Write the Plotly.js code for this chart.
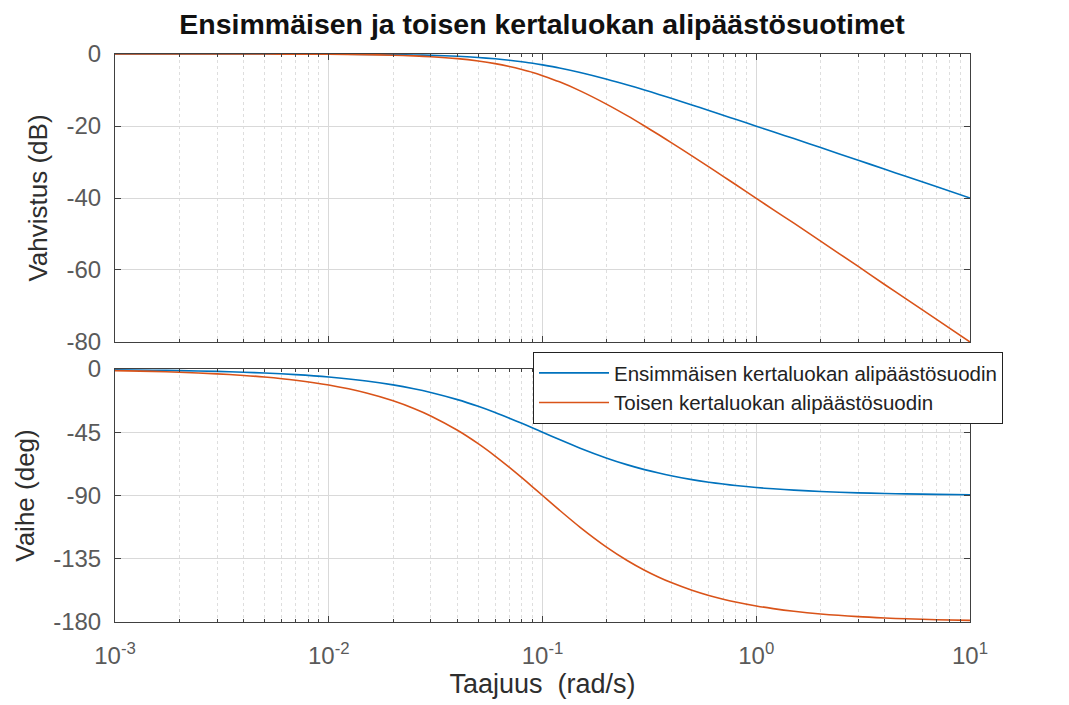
<!DOCTYPE html>
<html>
<head>
<meta charset="utf-8">
<script src="https://cdn.plot.ly/plotly-3.0.1.min.js"></script>
<style>
  html, body { margin: 0; padding: 0; background: #fff; }
  #plot { width: 1069px; height: 705px; }
</style>
</head>
<body>
<div id="plot"></div>
<script>
// Frequency points (rad/s)
const taajuus = [0.001, 0.0015, 0.002, 0.003, 0.004, 0.005, 0.007, 0.01, 0.015, 0.02,
                 0.025, 0.03, 0.04, 0.05, 0.06, 0.07, 0.08, 0.09, 0.1, 0.12,
                 0.15, 0.2, 0.25, 0.3, 0.35, 0.4, 0.5, 0.6, 0.7, 0.8,
                 1, 1.2, 1.5, 2, 3, 4, 5, 7, 10];

// Gain (dB)
const vahvistus1 = [0, 0, 0, 0, -0.01, -0.01, -0.02, -0.04, -0.1, -0.17,
                    -0.26, -0.37, -0.64, -0.97, -1.34, -1.73, -2.15, -2.56, -3.01, -3.87,
                    -5.12, -6.99, -8.6, -10.0, -11.22, -12.3, -14.15, -15.68, -17.0, -18.13,
                    -20.04, -21.61, -23.5, -26.0, -29.5, -32.04, -33.98, -36.9, -40.0];
const vahvistus2 = [0, 0, 0, -0.01, -0.01, -0.02, -0.04, -0.09, -0.19, -0.34,
                    -0.53, -0.75, -1.29, -1.94, -2.67, -3.47, -4.3, -5.12, -6.02, -7.74,
                    -10.24, -13.98, -17.2, -20.0, -22.44, -24.6, -28.3, -31.36, -34.0, -36.26,
                    -40.09, -43.23, -47.0, -52.0, -59.0, -64.09, -67.96, -73.8, -80.0];

// Phase (deg)
const vaihe1 = [-0.57, -0.86, -1.15, -1.72, -2.29, -2.86, -4.0, -5.71, -8.53, -11.31,
                -14.04, -16.7, -21.8, -26.57, -30.96, -34.99, -38.66, -41.99, -45.0, -50.19,
                -56.31, -63.43, -68.2, -71.57, -74.05, -75.96, -78.69, -80.54, -81.87, -82.87,
                -84.29, -85.24, -86.19, -87.14, -88.09, -88.57, -88.85, -89.18, -89.43];
const vaihe2 = [-1.15, -1.72, -2.29, -3.44, -4.58, -5.72, -8.0, -11.42, -17.06, -22.62,
                -28.07, -33.4, -43.6, -53.13, -61.93, -69.98, -77.32, -83.98, -90.0, -100.39,
                -112.62, -126.87, -136.4, -143.13, -148.1, -151.93, -157.38, -161.08, -163.74, -165.75,
                -168.58, -170.48, -172.39, -174.29, -176.19, -177.14, -177.71, -178.36, -178.85];

const nimet = ['Ensimmäisen kertaluokan alipäästösuodin', 'Toisen kertaluokan alipäästösuodin'];
const varit = ['#0072BD', '#D95319'];

const xTickVals = [0.001, 0.01, 0.1, 1, 10];
const xTickText = ['10<sup>-3</sup>', '10<sup>-2</sup>', '10<sup>-1</sup>', '10<sup>0</sup>', '10<sup>1</sup>'];
const gainTicks = [0, -20, -40, -60, -80];
const gainTickText = ['0', '-20', '-40', '-60', '-80'];
const phaseTicks = [0, -45, -90, -135, -180];
const phaseTickText = ['0', '-45', '-90', '-135', '-180'];

const FONT = 'Liberation Sans, Arial, sans-serif';
const axisColor = '#404040';
const tickColor = '#5a5a5a';
const titleColor = '#2e2e2e';

function curve(x, y, xa, ya, i, legend) {
  return { x: x, y: y, xaxis: xa, yaxis: ya, mode: 'lines', name: nimet[i],
           line: { color: varit[i], width: 1.6, shape: 'spline', smoothing: 0.8 },
           showlegend: legend, legendgroup: 'g' + i };
}

const traces = [
  curve(taajuus, vahvistus1, 'x', 'y', 0, true),
  curve(taajuus, vahvistus2, 'x', 'y', 1, true),
  curve(taajuus, vaihe1, 'x2', 'y2', 0, false),
  curve(taajuus, vaihe2, 'x2', 'y2', 1, false)
];

function xAxis(showLabels, anchor) {
  return {
    type: 'log', range: [-3, 1], domain: [0.1076, 0.9074], anchor: anchor,
    tickvals: xTickVals, ticktext: xTickText, showticklabels: showLabels,
    ticks: 'inside', ticklen: 6, tickcolor: axisColor, ticklabelstandoff: 12,
    showline: true, linecolor: axisColor, linewidth: 1, mirror: 'ticks',
    showgrid: true, gridcolor: '#d9d9d9', gridwidth: 1,
    minor: { dtick: 'D1', ticks: 'inside', ticklen: 3, tickcolor: axisColor,
             showgrid: true, gridcolor: '#dedede', griddash: 'dot', gridwidth: 1 },
    tickfont: { family: FONT, size: 24, color: tickColor },
    zeroline: false
  };
}

function yAxis(domain, ticks, tickText, range, titleText, anchor) {
  return {
    domain: domain, range: range, anchor: anchor,
    tickvals: ticks, ticktext: tickText, ticks: 'inside', ticklen: 6, tickcolor: axisColor,
    ticklabelstandoff: 8,
    showline: true, linecolor: axisColor, linewidth: 1, mirror: 'ticks',
    showgrid: true, gridcolor: '#d9d9d9', gridwidth: 1,
    tickfont: { family: FONT, size: 24, color: tickColor },
    title: { text: titleText, font: { family: FONT, size: 26, color: titleColor }, standoff: 11 },
    zeroline: false
  };
}

const layout = {
  width: 1069, height: 705,
  margin: { l: 0, r: 0, t: 0, b: 0 },
  paper_bgcolor: '#fff', plot_bgcolor: '#fff',
  title: { text: '<b>Ensimmäisen ja toisen kertaluokan alipäästösuotimet</b>',
           font: { family: FONT, size: 28.5, color: '#111' },
           x: 0.507, xanchor: 'center', y: 0.966, yanchor: 'middle' },
  xaxis: xAxis(false, 'y'),
  yaxis: yAxis([0.5149, 0.9234], gainTicks, gainTickText, [-80, 0], 'Vahvistus (dB)', 'x'),
  xaxis2: Object.assign(xAxis(true, 'y2'), {
    title: { text: 'Taajuus&nbsp;&nbsp;(rad/s)', font: { family: FONT, size: 27, color: titleColor }, standoff: 6 }
  }),
  yaxis2: yAxis([0.1177, 0.4766], phaseTicks, phaseTickText, [-180, 0], 'Vaihe (deg)', 'x2'),
  legend: {
    x: 0.4986, y: 0.5007, xanchor: 'left', yanchor: 'top',
    bgcolor: '#fff', bordercolor: '#222', borderwidth: 1,
    font: { family: FONT, size: 20.5, color: '#222' },
    itemwidth: 70, tracegroupgap: 0
  },
  showlegend: true
};

Plotly.newPlot('plot', traces, layout, { displayModeBar: false, staticPlot: true });
</script>
</body>
</html>
